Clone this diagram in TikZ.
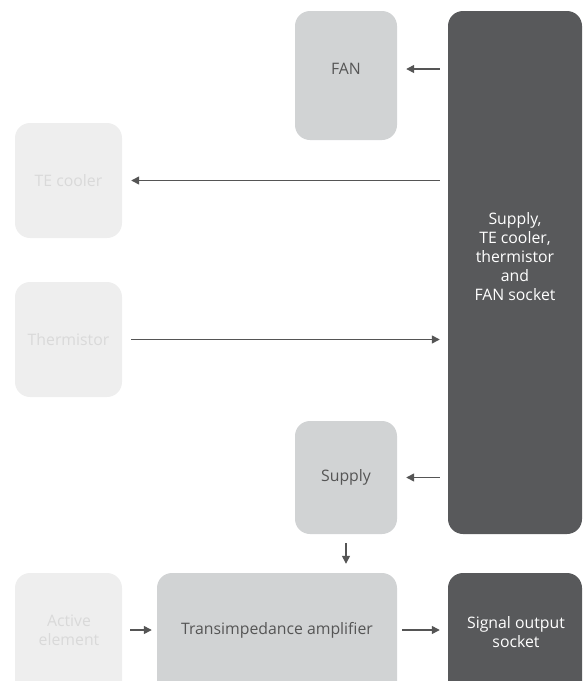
\documentclass[tikz,border=0pt]{standalone}
\usepackage{fontspec}
\setmainfont{Open Sans}
\usetikzlibrary{arrows.meta}
\definecolor{darkfill}{HTML}{58595B}
\definecolor{midfill}{HTML}{D1D3D4}
\definecolor{lightfill}{HTML}{EEEEEE}
\definecolor{lighttext}{HTML}{D9D9D9}
\definecolor{midtext}{HTML}{555555}
\definecolor{arrowcol}{HTML}{555555}
\begin{document}
\begin{tikzpicture}[x=1pt,y=-1pt,
  font=\fontsize{15.8}{19}\selectfont,
  boxbase/.style={rounded corners=15pt, inner sep=0pt, align=center},
  lightbox/.style={boxbase, fill=lightfill, text=lighttext},
  midbox/.style={boxbase, fill=midfill, text=midtext},
  darkbox/.style={boxbase, fill=darkfill, text=white},
  lighttxt/.style={text=lighttext, align=center, inner sep=0pt},
  midtxt/.style={text=midtext, align=center, inner sep=0pt},
  darktxt/.style={text=white, align=center, inner sep=0pt},
  arr/.style={draw=arrowcol, line width=1.4pt, -{Triangle[length=8pt,width=8pt]}, fill=arrowcol}
]
\useasboundingbox (0,0) rectangle (582,681);
\clip (0,0) rectangle (582,681);

% boxes
\node[midbox, minimum width=102pt, minimum height=129pt] (fan) at (346,75.5) {};
\node[midtxt] (fanT) at (346,69) {FAN};

\node[darkbox, minimum width=134pt, minimum height=523pt] (dark) at (515,272.5) {};
\node[darktxt] (darkT) at (515,257) {Supply,\\TE cooler,\\thermistor\\and\\FAN socket};

\node[lightbox, minimum width=107pt, minimum height=115pt] (te) at (68.5,180.5) {TE cooler};
\node[lightbox, minimum width=107pt, minimum height=115pt] (th) at (68.5,339.5) {Thermistor};

\node[midbox, minimum width=102pt, minimum height=113pt] (sup) at (346,477.5) {Supply};

\node[lightbox, minimum width=107pt, minimum height=127pt] (act) at (68.5,636.5) {};
\node[lighttxt] (actT) at (69,630) {Active\\element};

\node[midbox, minimum width=240pt, minimum height=127pt] (tia) at (277,636.5) {};
\node[midtxt] (tiaT) at (277,630) {Transimpedance amplifier};

\node[darkbox, minimum width=134pt, minimum height=127pt] (sig) at (515,636.5) {};
\node[darktxt] (sigT) at (516,632) {Signal output\\socket};

% connectors
\draw[arr] ([xshift=-8pt]dark.west |- fanT) -- ([xshift=9pt]fan.east |- fanT);
\draw[arr] ([xshift=-8pt]dark.west |- te.east) -- ([xshift=9pt]te.east);
\draw[arr] ([xshift=9pt]th.east) -- ([xshift=-8pt]dark.west |- th.east);
\draw[arr] ([xshift=-8pt]dark.west |- sup.east) -- ([xshift=9pt]sup.east);
\draw[arr] ([yshift=-9pt]sup.south) -- ([yshift=9pt]sup.south |- tia.north);
\draw[arr] ([xshift=8pt]act.east |- tiaT) -- ([xshift=-5pt]tia.west |- tiaT);
\draw[arr] ([xshift=5pt]tia.east |- tiaT) -- ([xshift=-8pt]sig.west |- tiaT);
\end{tikzpicture}
\end{document}
